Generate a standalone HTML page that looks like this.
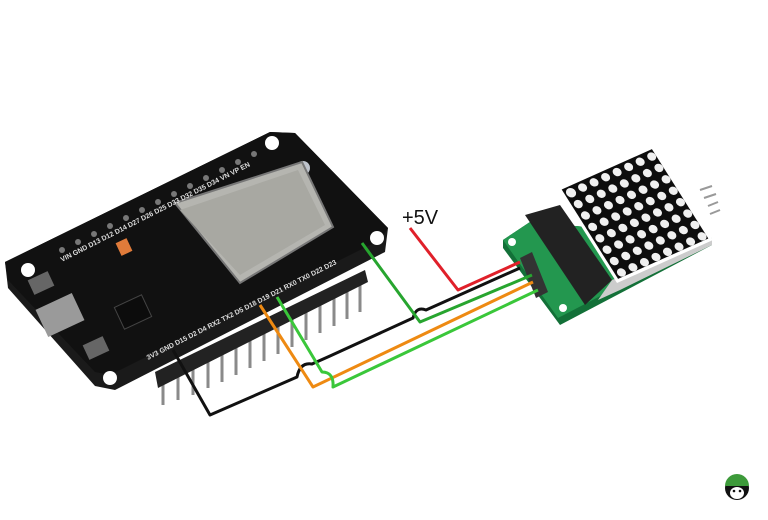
<!DOCTYPE html>
<html><head><style>html,body{margin:0;padding:0;background:#fff;}svg{display:block}</style></head>
<body>
<svg width="768" height="520" viewBox="0 0 768 520" xmlns="http://www.w3.org/2000/svg">
<rect width="768" height="520" fill="#fff"/>
<!-- ESP32 board -->
<g>
<!-- pins below -->
<g stroke="#8a8a8a" stroke-width="3">
<line x1="163" y1="380" x2="163" y2="405"/><line x1="178" y1="373" x2="178" y2="400"/>
<line x1="193" y1="366" x2="193" y2="395"/><line x1="208" y1="359" x2="208" y2="388"/>
<line x1="222" y1="352" x2="222" y2="382"/><line x1="236" y1="345" x2="236" y2="375"/>
<line x1="250" y1="338" x2="250" y2="368"/><line x1="264" y1="331" x2="264" y2="361"/>
<line x1="278" y1="324" x2="278" y2="354"/><line x1="292" y1="317" x2="292" y2="347"/>
<line x1="306" y1="310" x2="306" y2="340"/><line x1="320" y1="303" x2="320" y2="333"/>
<line x1="334" y1="296" x2="334" y2="326"/><line x1="347" y1="289" x2="347" y2="319"/>
<line x1="360" y1="282" x2="360" y2="312"/>
</g>
<polygon points="5,262 270,132 295,133 388,228 385,252 115,390 95,386 8,288" fill="#1a1a1a"/>
<polygon points="5,262 270,132 295,133 388,228 380,240 110,375 95,372 8,280" fill="#111"/>
<polygon points="155,372 365,270 368,282 158,388" fill="#222"/>
<!-- holes -->
<circle cx="28" cy="270" r="7" fill="#fff"/><circle cx="272" cy="143" r="7" fill="#fff"/>
<circle cx="377" cy="238" r="7" fill="#fff"/><circle cx="110" cy="378" r="7" fill="#fff"/>
<circle cx="303" cy="168" r="7" fill="#bfc4cc"/>
<!-- top pin row labels dots -->
<g fill="#777">
<circle cx="62" cy="250" r="3"/><circle cx="78" cy="242" r="3"/><circle cx="94" cy="234" r="3"/><circle cx="110" cy="226" r="3"/><circle cx="126" cy="218" r="3"/><circle cx="142" cy="210" r="3"/><circle cx="158" cy="202" r="3"/><circle cx="174" cy="194" r="3"/><circle cx="190" cy="186" r="3"/><circle cx="206" cy="178" r="3"/><circle cx="222" cy="170" r="3"/><circle cx="238" cy="162" r="3"/><circle cx="254" cy="154" r="3"/>
</g>
<!-- shield -->
<polygon points="175,203 302,162 333,227 240,283" fill="#b5b5b0" stroke="#777" stroke-width="2"/>
<polygon points="180,210 298,170 325,225 240,275" fill="#a8a8a2"/>
<!-- orange cap, chips -->
<rect x="118" y="240" width="12" height="14" fill="#e07b3a" transform="rotate(-25 124 247)"/>
<rect x="118" y="300" width="30" height="24" fill="#0c0c0c" stroke="#444" transform="rotate(-25 133 312)"/>
<rect x="40" y="300" width="40" height="30" fill="#9a9a9a" transform="rotate(-25 60 315)"/>
<rect x="30" y="275" width="22" height="16" fill="#666" transform="rotate(-25 41 283)"/>
<rect x="85" y="340" width="22" height="16" fill="#666" transform="rotate(-25 96 348)"/>
<g fill="#ddd" font-family="Liberation Sans, sans-serif" font-size="7" font-weight="bold">
<text x="62" y="262" transform="rotate(-27 62 262)">VIN GND D13 D12 D14 D27 D26 D25 D33 D32 D35 D34 VN VP EN</text>
<text x="148" y="360" transform="rotate(-27 148 360)">3V3 GND D15 D2 D4 RX2 TX2 D5 D18 D19 D21 RX0 TX0 D22 D23</text>
</g>
</g>
<!-- Matrix module -->
<polygon points="503,240 530,222 712,238 558,318" fill="#1d8a4a"/>
<polygon points="503,240 530,222 712,238 712,245 560,325 503,248" fill="#137038"/>
<polygon points="503,240 530,222 712,238 558,318" fill="#23974f"/>
<circle cx="512" cy="242" r="4" fill="#fff"/><circle cx="563" cy="308" r="4" fill="#fff"/>
<polygon points="525,215 560,205 612,280 585,305" fill="#222"/>
<polygon points="598,300 612,280 700,245 712,238 712,245 620,290" fill="#ccc"/>
<g transform="matrix(96,-43,60,95,557,188)">
<rect x="0" y="0" width="1" height="1" fill="#fff"/>
<rect x="0.03" y="0.03" width="0.94" height="0.94" fill="#0d0d0d"/>
<g fill="#f2f2f2">
<circle cx="0.09" cy="0.09" r="0.045"/>
</g>
</g>
<g fill="#f0f0f0">
<!-- 8x8 dots computed via transform -->
<g transform="matrix(96,-43,60,95,557,188)">
<g id="row"><circle cx="0.09" cy="0.09" r="0.04"/><circle cx="0.21" cy="0.09" r="0.04"/><circle cx="0.33" cy="0.09" r="0.04"/><circle cx="0.45" cy="0.09" r="0.04"/><circle cx="0.57" cy="0.09" r="0.04"/><circle cx="0.69" cy="0.09" r="0.04"/><circle cx="0.81" cy="0.09" r="0.04"/><circle cx="0.93" cy="0.09" r="0.04"/></g>
<use href="#row" y="0.12"/><use href="#row" y="0.24"/><use href="#row" y="0.36"/><use href="#row" y="0.48"/><use href="#row" y="0.60"/><use href="#row" y="0.72"/><use href="#row" y="0.84"/>
</g>
</g>
<g stroke="#999" stroke-width="2"><line x1="700" y1="190" x2="712" y2="186"/><line x1="704" y1="198" x2="716" y2="194"/><line x1="708" y1="206" x2="718" y2="202"/><line x1="710" y1="214" x2="720" y2="210"/></g>
<polygon points="520,258 532,252 548,292 536,298" fill="#333"/>
<!-- wires -->
<g fill="none" stroke-width="3" stroke-linejoin="round">
<polyline points="410,228 458,290 520,262" stroke="#e0202a"/>
<path d="M173,350 L210,415 L297,377 Q300,362 312,364 L330,356 L413,318 Q416,306 426,310 L520,268" stroke="#111"/>
<polyline points="362,243 420,322 532,275" stroke="#27a52f"/>
<polyline points="260,305 313,387 533,282" stroke="#ee8a12"/>
<path d="M277,297 L322,372 Q334,372 333,387 L538,290" stroke="#3ac73a"/>
</g>
<text x="402" y="224" font-family="Liberation Sans, sans-serif" font-size="20" fill="#111">+5V</text>
<!-- logo -->
<circle cx="737" cy="488" r="12" fill="#111"/>
<path d="M725,486 A12,12 0 0 1 749,486 Z" fill="#3d9a3a"/>
<ellipse cx="737" cy="493" rx="7" ry="6" fill="#fff"/>
<circle cx="734" cy="491" r="1.3" fill="#111"/><circle cx="740" cy="491" r="1.3" fill="#111"/>
</svg>
</body></html>
